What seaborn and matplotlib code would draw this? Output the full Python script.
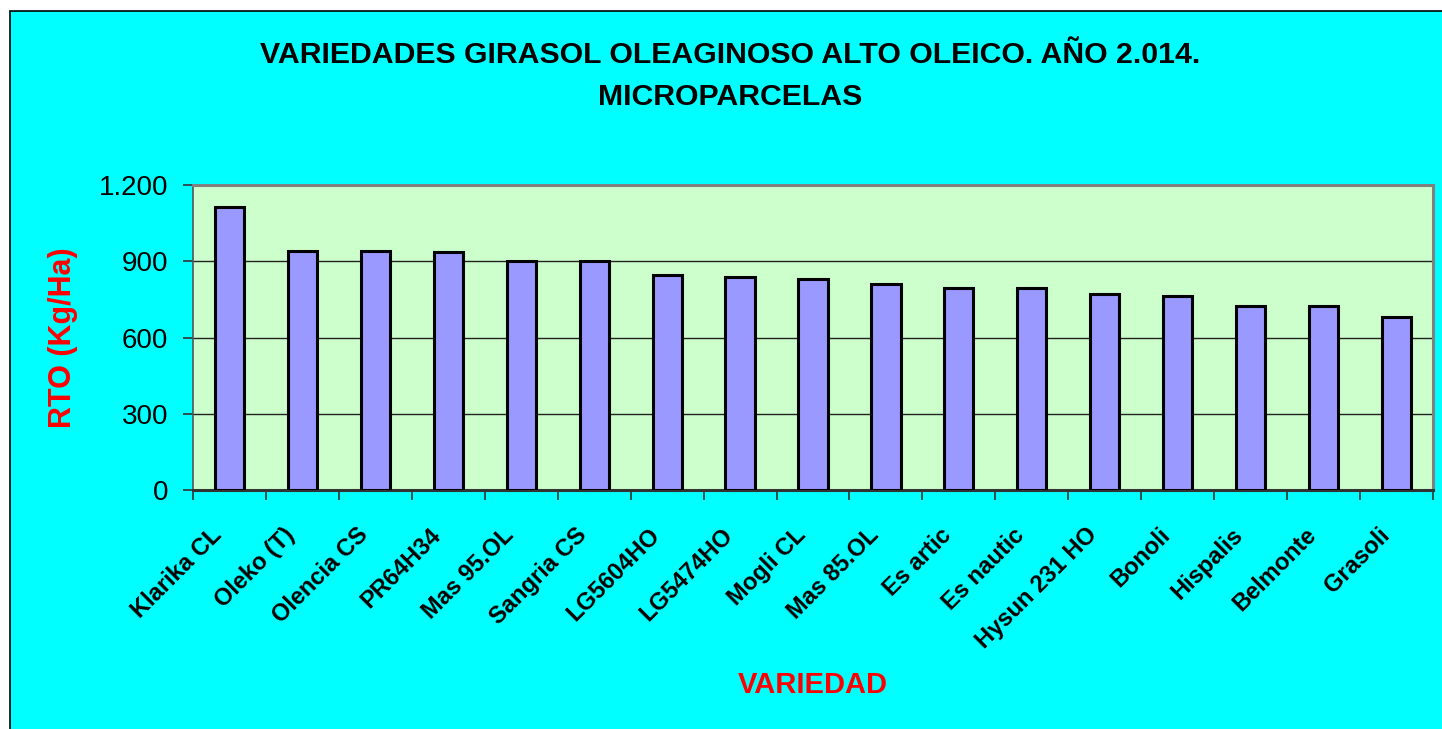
import matplotlib
matplotlib.use("Agg")

import matplotlib.pyplot as plt
import matplotlib.transforms as mtransforms
import numpy as np
import pandas as pd
import seaborn as sns
from matplotlib.patches import Rectangle
from matplotlib.ticker import FixedLocator, FuncFormatter


VARIETIES = [
	"Klarika CL", "Oleko (T)", "Olencia CS", "PR64H34", "Mas 95.OL", "Sangria CS",
	"LG5604HO", "LG5474HO", "Mogli CL", "Mas 85.OL", "Es artic", "Es nautic",
	"Hysun 231 HO", "Bonoli", "Hispalis", "Belmonte", "Grasoli",
]
YIELD_KG_HA = [
	1112, 941, 941, 935, 902, 902,
	845, 837, 829, 810, 795, 795,
	771, 763, 723, 723, 682,
]
Y_TICKS = [0, 300, 600, 900, 1200]

TITLE = "VARIEDADES GIRASOL OLEAGINOSO ALTO OLEICO. AÑO 2.014.\nMICROPARCELAS"
X_LABEL = "VARIEDAD"
Y_LABEL = "RTO (Kg/Ha)"


def thousands_dot(value: float, _pos) -> str:
	return f"{int(value):,}".replace(",", ".")


def main() -> None:
	df = pd.DataFrame({"variedad": VARIETIES, "rto": YIELD_KG_HA})

	sns.set_theme(style="white")
	plt.rcParams["font.family"] = ["Liberation Sans", "DejaVu Sans"]
	plt.rcParams["text.color"] = "black"

	fig = plt.figure(figsize=(14.42, 7.29), dpi=100)
	fig.patch.set_facecolor("white")
	fig.patches.append(
		Rectangle((10 / 1442, -0.01), 1.0, 1 - 11 / 729 + 0.01, transform=fig.transFigure,
			facecolor="#00FFFF", edgecolor="black", linewidth=1.2, zorder=-5)
	)

	ax = fig.add_axes([193 / 1442, (729 - 490) / 729, 1240 / 1442, 305 / 729])
	ax.set_zorder(2)
	ax.set_facecolor("#CCFFCC")

	sns.barplot(
		data=df, x="variedad", y="rto", ax=ax,
		color="#9999FF", edgecolor="black", linewidth=2.2, width=0.4,
		saturation=1, errorbar=None, zorder=3,
	)

	ax.set_ylim(0, 1200)
	ax.set_xlim(-0.5, len(VARIETIES) - 0.5)
	ax.yaxis.set_major_locator(FixedLocator(Y_TICKS))
	ax.yaxis.set_major_formatter(FuncFormatter(thousands_dot))
	ax.grid(axis="y", color="#222222", linewidth=1.0, zorder=1)
	ax.set_axisbelow(True)

	ax.tick_params(axis="y", which="major", left=True, direction="out", length=7,
		width=1.2, color="#333333", labelsize=20, pad=11, labelcolor="black")
	ax.tick_params(axis="x", which="major", bottom=False, length=0, pad=24, labelcolor="black")
	ax.set_xticks(np.arange(-0.5, len(VARIETIES) + 0.5), minor=True)
	ax.tick_params(axis="x", which="minor", bottom=True, direction="out", length=7,
		width=1.2, color="#333333")

	# Excel-style: top-right corner of each rotated label sits left of the category centre
	shift = mtransforms.ScaledTranslation(-19 / 100, 0, fig.dpi_scale_trans)
	for label in ax.get_xticklabels():
		label.set_rotation(45)
		label.set_ha("right")
		label.set_va("top")
		label.set_rotation_mode("anchor")
		label.set_fontsize(17)
		label.set_fontweight("bold")
		label.set_transform(label.get_transform() + shift)

	for side in ("top", "right"):
		ax.spines[side].set_color("#808080")
		ax.spines[side].set_linewidth(2.2)
	ax.spines["left"].set_color("#555555")
	ax.spines["left"].set_linewidth(1.2)
	ax.spines["bottom"].set_color("#333333")
	ax.spines["bottom"].set_linewidth(2.2)

	ax.set_xlabel(X_LABEL, color="red", fontsize=21, fontweight="bold", va="center")
	ax.xaxis.set_label_coords(0.5, -0.639)
	ax.set_ylabel(Y_LABEL, color="red", fontsize=22, fontweight="bold", va="center")
	ax.yaxis.set_label_coords(-0.105, 0.5)

	fig.text(730 / 1442, 1 - 76 / 729, TITLE, ha="center", va="center", color="black",
		fontsize=21.8, fontweight="bold", linespacing=1.6)

	fig.savefig("out.png", dpi=100, facecolor=fig.get_facecolor())
	plt.close(fig)


if __name__ == "__main__":
	main()
